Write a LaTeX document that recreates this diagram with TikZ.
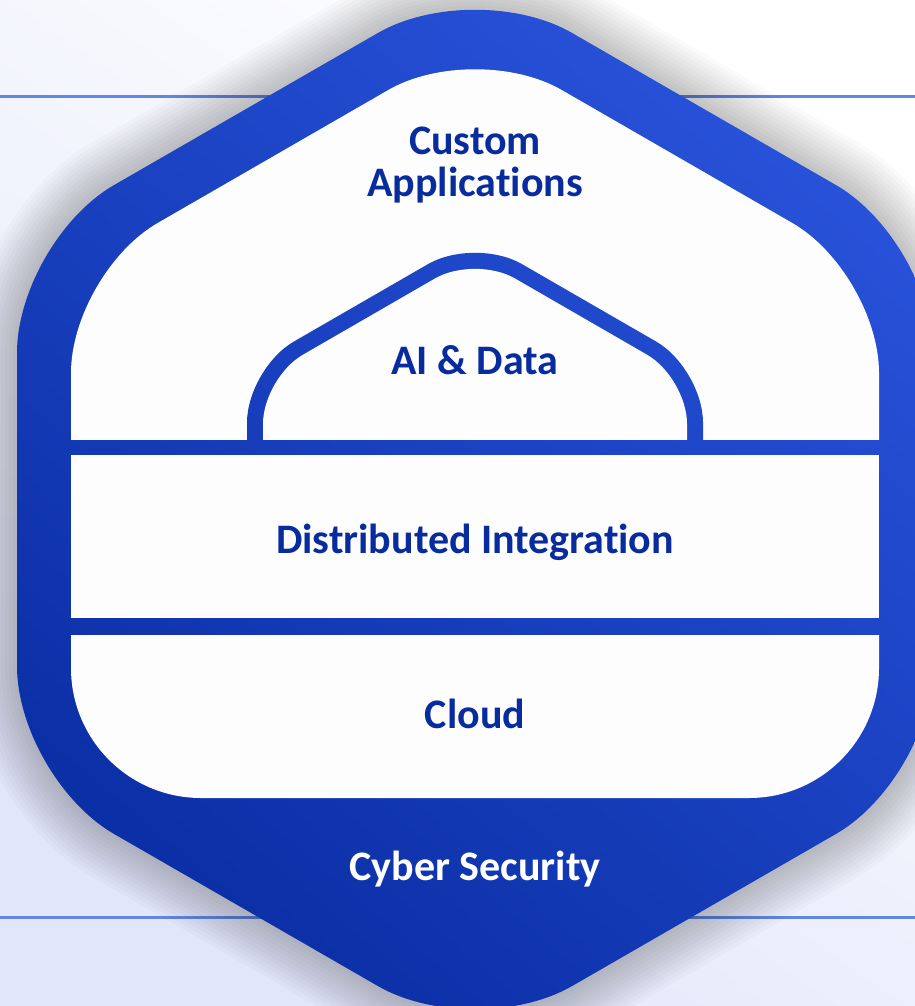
\documentclass[tikz,border=0pt]{standalone}
\usepackage{fontspec}
\setmainfont{Carlito}[Ligatures=NoCommon]
\definecolor{hexdark}{RGB}{10,46,164}
\definecolor{hexlight}{RGB}{40,82,218}
\definecolor{labelblue}{RGB}{8,44,158}
\definecolor{rulecol}{RGB}{96,136,226}
\definecolor{bglav}{RGB}{226,230,250}
\definecolor{panel}{RGB}{253,253,254}

\begin{document}
\begin{tikzpicture}[x=1pt,y=-1pt,
    layer/.style={font=\fontsize{42}{42}\selectfont\bfseries,text=labelblue,align=center,inner sep=0pt},
    hexshade/.style={rounded corners=112pt,bottom color=hexdark,top color=hexlight,shading angle=-40}]
    \useasboundingbox (0,0) rectangle (915,1006);
    \clip (0,0) rectangle (915,1006);

    % background and the two rules
    \shade[bottom color=bglav, top color=white, shading angle=-35] (0,0) rectangle (915,1006);
    \draw[rulecol, line width=3pt] (0,97) -- (915,97);
    \draw[rulecol, line width=3pt] (0,917) -- (915,917);

    % soft shadow round the hexagon
    \foreach \w in {1,...,12}
        \draw[black, opacity=0.02, line width=\w*8pt, rounded corners=112pt]
            (17,500) -- (17,241) -- (475,-23) -- (933,241) -- (933,778) -- (475,1042) -- (17,778) -- cycle;

    % outer hexagon
    \shade[hexshade] (17,500) -- (17,241) -- (475,-23) -- (933,241) -- (933,778) -- (475,1042) -- (17,778) -- cycle;

    % white panels
    \begin{scope}
        \clip (0,0) rectangle (915,439);
        \fill[panel, rounded corners=100pt] (71,600) -- (71,273) -- (475,40) -- (879,273) -- (879,600) -- cycle;
    \end{scope}
    \fill[panel] (71,455) rectangle (879,618);
    \begin{scope}
        \clip (0,635) rectangle (915,1006);
        \fill[panel, rounded corners=130pt] (71,400) -- (71,798) -- (879,798) -- (879,400) -- cycle;
    \end{scope}

    % arch: blue band, then its white inside
    \begin{scope}[rounded corners=54pt]
        \clip (0,0) rectangle (915,447);
        \clip (247,600) -- (247,368.6) -- (475,237) -- (703,368.6) -- (703,600) -- cycle;
        \shade[hexshade] (17,500) -- (17,241) -- (475,-23) -- (933,241) -- (933,778) -- (475,1042) -- (17,778) -- cycle;
    \end{scope}
    \begin{scope}
        \clip (0,0) rectangle (915,439);
        \fill[panel, rounded corners=46pt] (263,600) -- (263,377.8) -- (475,255.4) -- (687,377.8) -- (687,600) -- cycle;
    \end{scope}

    % labels
    \node[layer] (custom) at (475,165) {Custom\\Applications};
    \node[layer, anchor=base] (aidata) at (475,374) {AI \& Data};
    \node[layer, anchor=base] (distint) at (475,553) {Distributed Integration};
    \node[layer, anchor=base] (cloud) at (475,728) {Cloud};
    \node[layer, anchor=base, text=white] (cyber) at (475,880) {Cyber Security};
\end{tikzpicture}
\end{document}
